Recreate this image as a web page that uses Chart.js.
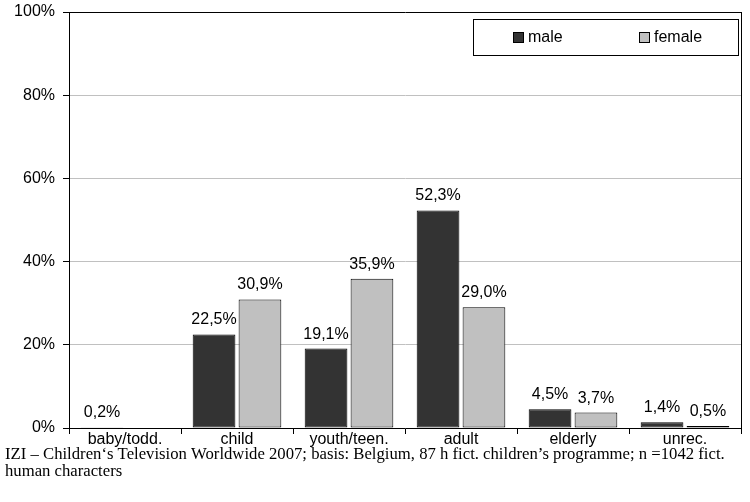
<!DOCTYPE html>
<html>
<head>
<meta charset="utf-8">
<script src="https://cdn.jsdelivr.net/npm/chart.js@4"></script>
<style>
  html, body { margin: 0; padding: 0; background: #fff; }
  #wrap { width: 750px; height: 502px; position: relative; }
</style>
</head>
<body>
<div id="wrap"><canvas id="c" width="750" height="502"></canvas></div>
<script>
// Age groups of fictional human characters, share per gender (%)
const categories = ['baby/todd.', 'child', 'youth/teen.', 'adult', 'elderly', 'unrec.'];
const maleValues = [0.2, 22.5, 19.1, 52.3, 4.5, 1.4];
const femaleValues = [0, 30.9, 35.9, 29.0, 3.7, 0.5];
const seriesNames = ['male', 'female'];
const yTicks = [0, 20, 40, 60, 80, 100];
const captionLines = [
  'IZI \u2013 Children\u2018s Television Worldwide 2007; basis: Belgium, 87 h fict. children\u2019s programme; n =1042 fict.',
  'human characters'
];

const SANS = '"Liberation Sans", Arial, sans-serif';
const SERIF = '"Liberation Serif", "Times New Roman", serif';
const DARK = '#333333';
const LIGHT = '#c0c0c0';

function fmtPct(v) {
  return v.toFixed(1).replace('.', ',') + '%';
}

// value labels above each bar
const valueLabels = {
  id: 'valueLabels',
  afterDatasetsDraw(chart) {
    const ctx = chart.ctx;
    ctx.save();
    ctx.font = '16px ' + SANS;
    ctx.fillStyle = '#000';
    ctx.textAlign = 'center';
    ctx.textBaseline = 'alphabetic';
    chart.data.datasets.forEach((ds, i) => {
      const meta = chart.getDatasetMeta(i);
      meta.data.forEach((bar, j) => {
        const v = ds.data[j];
        if (!v) return;
        ctx.fillText(fmtPct(v), bar.x, bar.y - 10);
      });
    });
    ctx.restore();
  }
};

// right frame line, boxed legend and source caption
const decorations = {
  id: 'decorations',
  afterDraw(chart) {
    const ctx = chart.ctx;
    const a = chart.chartArea;
    ctx.save();
    ctx.strokeStyle = '#000';
    ctx.lineWidth = 1;
    ctx.beginPath();
    ctx.moveTo(Math.round(a.right) + 0.5, a.top);
    ctx.lineTo(Math.round(a.right) + 0.5, a.bottom);
    ctx.stroke();

    // legend
    ctx.fillStyle = '#fff';
    ctx.fillRect(473.5, 19.5, 265, 36);
    ctx.strokeRect(473.5, 19.5, 265, 36);
    const items = [
      { x: 513, color: DARK, text: seriesNames[0] },
      { x: 639, color: LIGHT, text: seriesNames[1] }
    ];
    ctx.font = '16px ' + SANS;
    ctx.textBaseline = 'middle';
    ctx.textAlign = 'left';
    items.forEach(it => {
      ctx.fillStyle = it.color;
      ctx.fillRect(it.x + 0.5, 32.5, 10, 10);
      ctx.strokeStyle = '#000';
      ctx.strokeRect(it.x + 0.5, 32.5, 10, 10);
      ctx.fillStyle = '#000';
      ctx.fillText(it.text, it.x + 15, 38);
    });

    // caption
    ctx.font = '16.7px ' + SERIF;
    ctx.textBaseline = 'alphabetic';
    ctx.fillStyle = '#000';
    ctx.fillText(captionLines[0], 5, 459);
    ctx.fillText(captionLines[1], 5, 476);
    ctx.restore();
  }
};

new Chart(document.getElementById('c'), {
  type: 'bar',
  data: {
    labels: categories,
    datasets: [
      {
        label: seriesNames[0],
        data: maleValues,
        backgroundColor: DARK,
        borderColor: '#000',
        borderWidth: 1,
        borderSkipped: false,
        categoryPercentage: 0.82,
        barPercentage: 0.93
      },
      {
        label: seriesNames[1],
        data: femaleValues,
        backgroundColor: LIGHT,
        borderColor: '#000',
        borderWidth: 1,
        borderSkipped: false,
        categoryPercentage: 0.82,
        barPercentage: 0.93
      }
    ]
  },
  options: {
    responsive: false,
    animation: false,
    devicePixelRatio: 1,
    layout: { padding: { top: 12, right: 9, left: 0, bottom: 0 } },
    plugins: {
      legend: { display: false },
      tooltip: { enabled: false }
    },
    scales: {
      x: {
        offset: true,
        grid: {
          offset: true,
          drawOnChartArea: false,
          drawTicks: true,
          tickLength: 6,
          tickColor: '#000'
        },
        border: { display: true, color: '#000', width: 1 },
        ticks: {
          color: '#000',
          font: { family: SANS, size: 16, lineHeight: 1 },
          padding: -2,
          maxRotation: 0,
          autoSkip: false
        },
        afterFit(scale) {
          scale.height = 74;
          scale.paddingLeft = 0;
          scale.paddingRight = 0;
        }
      },
      y: {
        min: 0,
        max: 100,
        afterBuildTicks(scale) {
          scale.ticks = yTicks.map(v => ({ value: v }));
        },
        grid: {
          color: (c) => (c.tick && c.tick.value === 100 ? '#000' : '#c0c0c0'),
          tickLength: 6,
          tickColor: '#000'
        },
        border: { display: true, color: '#000', width: 1 },
        ticks: {
          color: '#000',
          font: { family: SANS, size: 16 },
          padding: 8,
          callback: (v) => v + '%'
        },
        afterFit(scale) {
          scale.width = 69;
          scale.paddingTop = 0;
          scale.paddingBottom = 0;
        }
      }
    }
  },
  plugins: [valueLabels, decorations]
});
</script>
</body>
</html>
